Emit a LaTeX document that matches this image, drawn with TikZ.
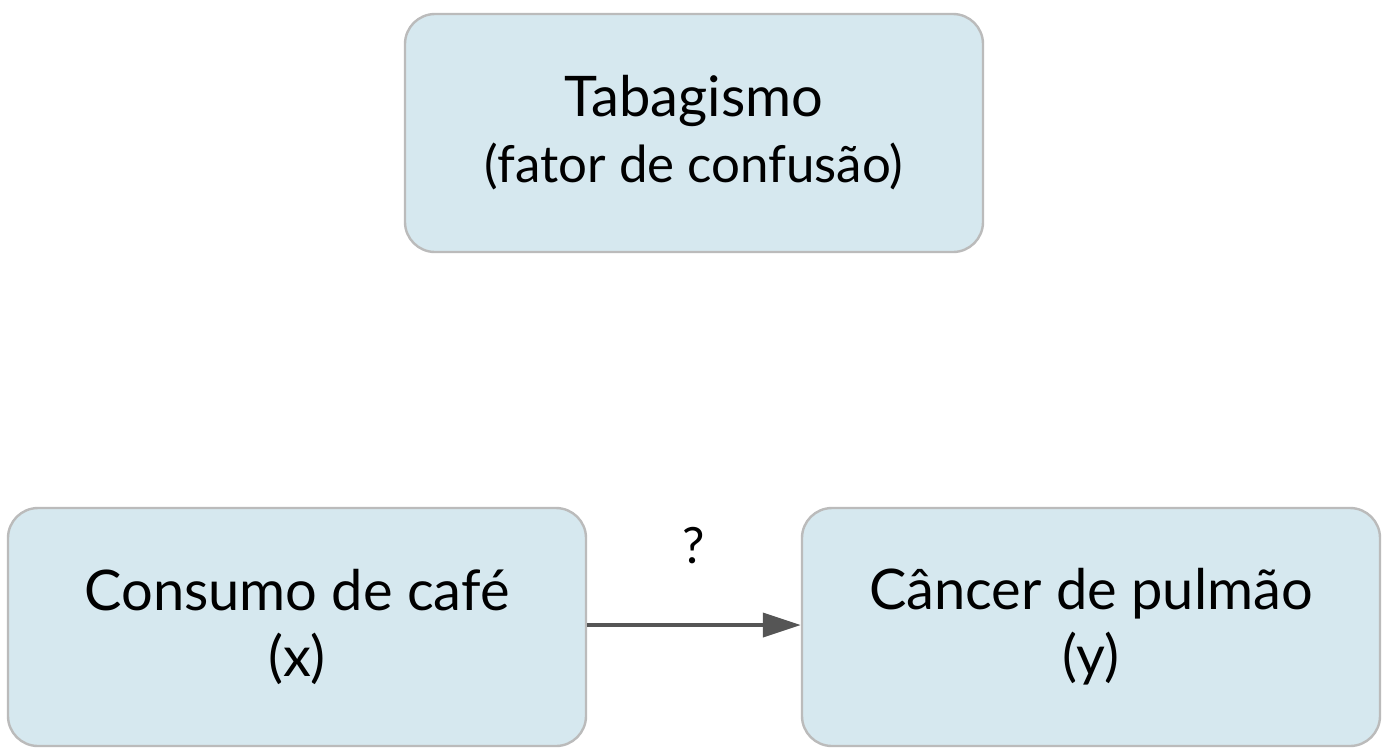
\documentclass[tikz,border=0pt]{standalone}
\usepackage{fontspec}
\setmainfont{Lato}
\usetikzlibrary{arrows.meta, positioning}
\definecolor{boxfill}{HTML}{D6E8EF}
\definecolor{boxline}{HTML}{BBBBBB}
\definecolor{arrowgray}{HTML}{555555}

\begin{document}
\begin{tikzpicture}[x=0.5pt, y=-0.5pt,
    var node/.style={rectangle, rounded corners=15pt, draw=boxline, line width=1.2pt, fill=boxfill,
        minimum width=289pt, minimum height=119pt, align=center, font=\fontsize{28}{33}\selectfont},
    link/.style={-{Triangle[length=19pt, width=12pt]}, draw=arrowgray, line width=2pt}]
    \useasboundingbox (0,0) rectangle (1382,752);

    % Nodes
    \node[var node] (T) at (694,133) {Tabagismo\\{\fontsize{25.5}{33}\selectfont(fator de confusão)}};
    \node[var node] (X) at (297,627) {Consumo de café\\(x)};
    \node[var node] (Y) at (1091,627) {Câncer de pulmão\\(y)};

    % Arrow
    \draw[link] (X.east |- 0,625) -- node[above=26pt, font=\fontsize{25}{28}\selectfont, text=black] {?} (Y.west |- 0,625);
\end{tikzpicture}
\end{document}
